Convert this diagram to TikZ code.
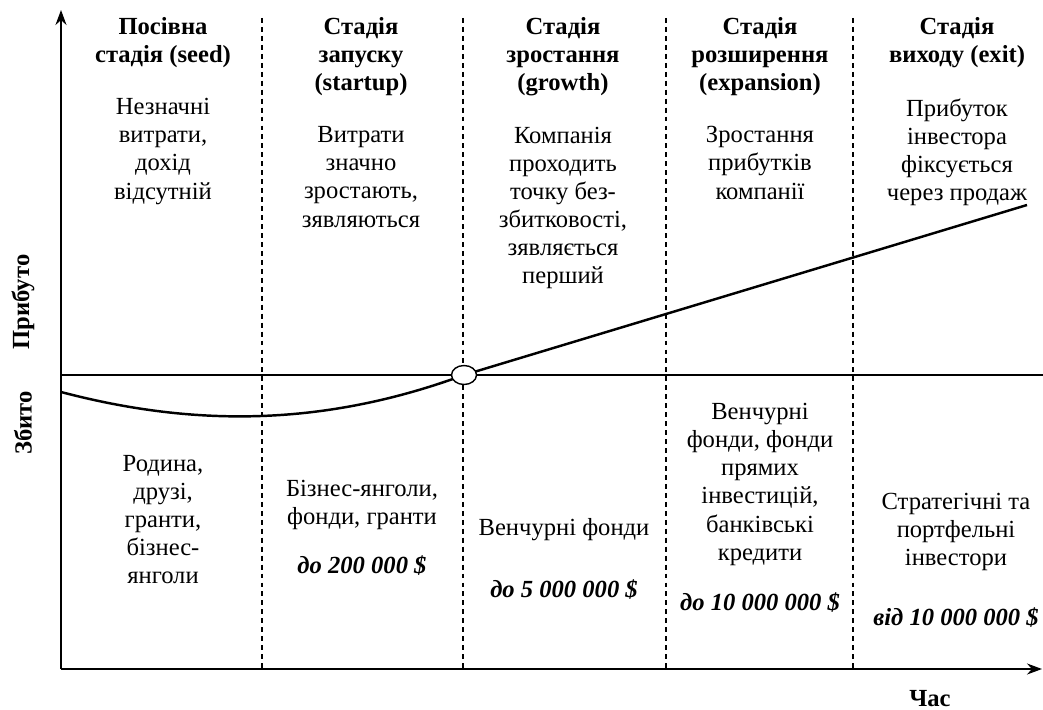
\documentclass[tikz,border=0pt]{standalone}
\usepackage{fontspec}
\setmainfont{Liberation Serif}
\usetikzlibrary{shapes,arrows,positioning,calc,arrows.meta}

\tikzset{
  stagehead/.style={align=center, inner sep=0pt, anchor=north, font=\fontsize{14}{16}\selectfont\bfseries},
  stagetext/.style={align=center, inner sep=0pt, font=\fontsize{14}{16}\selectfont},
  money/.style={inner sep=0pt, anchor=base, font=\fontsize{14}{16}\selectfont\bfseries\itshape},
  axislbl/.style={inner sep=0pt, font=\fontsize{14}{16}\selectfont\bfseries},
  divider/.style={line width=0.6pt, dash pattern=on 2.8pt off 2.3pt},
  profitline/.style={line width=1.4pt},
  breakeven/.style={draw, ellipse, fill=white, line width=0.8pt, minimum width=0.5cm, minimum height=0.38cm, inner sep=0pt}
}

\begin{document}
\begin{tikzpicture}[x=0.02cm, y=-0.02cm]
    \useasboundingbox (0,0) rectangle (1043,709);

    % axes and zero line
    \coordinate (o) at (61,669);
    \coordinate (ytop) at (61,10);
    \coordinate (xend) at (1042,669);
    \coordinate (zl) at (61,375);
    \coordinate (zr) at (1043,375);

    % stage borders
    \foreach \x in {262,463,666,853}
        \draw[divider] (\x,18) -- (\x,669);

    \draw[line width=0.6pt] (zl) -- (zr);
    \draw[line width=0.9pt, -{Stealth[length=3mm, width=2.2mm]}] (o) -- (ytop);
    \draw[line width=0.9pt, -{Stealth[length=3mm, width=2.2mm]}] (o) -- (xend);

    \node[axislbl, rotate=90] (profit) at (23,302) {Прибуто};
    \node[axislbl, rotate=90] (loss) at (23,423) {Збито};
    \node[axislbl, anchor=base] (time) at (930,706) {Час};

    % profit curve
    \coordinate (start) at (61,392);
    \coordinate (be) at (464,375);
    \coordinate (exitpt) at (1027,205);
    \draw[profitline] (start) .. controls (190,426) and (320,428) .. (be) -- (exitpt);
    \node[breakeven] (bepoint) at (be) {};

    % stage headers
    \node[stagehead] (h1) at (163,17) {Посівна\\стадія (seed)};
    \node[stagehead] (h2) at (361,17) {Стадія\\запуску\\(startup)};
    \node[stagehead] (h3) at (563,17) {Стадія\\зростання\\(growth)};
    \node[stagehead] (h4) at (760,17) {Стадія\\розширення\\(expansion)};
    \node[stagehead] (h5) at (957,17) {Стадія\\виходу (exit)};

    % what happens in each stage
    \node[stagetext, anchor=north, below=0.6cm of h1] (t1) {Незначні\\витрати,\\дохід\\відсутній};
    \node[stagetext, anchor=north, below=0.6cm of h2] (t2) {Витрати\\значно\\зростають,\\зявляються};
    \node[stagetext, anchor=north, below=0.6cm of h3] (t3) {Компанія\\проходить\\точку без-\\збитковості,\\зявляється\\перший};
    \node[stagetext, anchor=north, below=0.6cm of h4] (t4) {Зростання\\прибутків\\компанії};
    \node[stagetext, anchor=north, below=0.6cm of h5] (t5) {Прибуток\\інвестора\\фіксується\\через продаж};

    % sources of money
    \node[stagetext, anchor=north] (s1) at (163,455) {Родина,\\друзі,\\гранти,\\бізнес-\\янголи};
    \node[stagetext, anchor=north] (s2) at (362,480) {Бізнес-янголи,\\фонди, гранти};
    \node[stagetext, anchor=base] (s3) at (564,535) {Венчурні фонди};
    \node[stagetext, anchor=north] (s4) at (760,403) {Венчурні\\фонди, фонди\\прямих\\інвестицій,\\банківські\\кредити};
    \node[stagetext, anchor=north] (s5) at (956,493) {Стратегічні та\\портфельні\\інвестори};

    \node[money] (m2) at (362,573) {до 200 000 \$};
    \node[money] (m3) at (564,597) {до 5 000 000 \$};
    \node[money] (m4) at (760,610) {до 10 000 000 \$};
    \node[money] (m5) at (956,625) {від 10 000 000 \$};
\end{tikzpicture}
\end{document}
